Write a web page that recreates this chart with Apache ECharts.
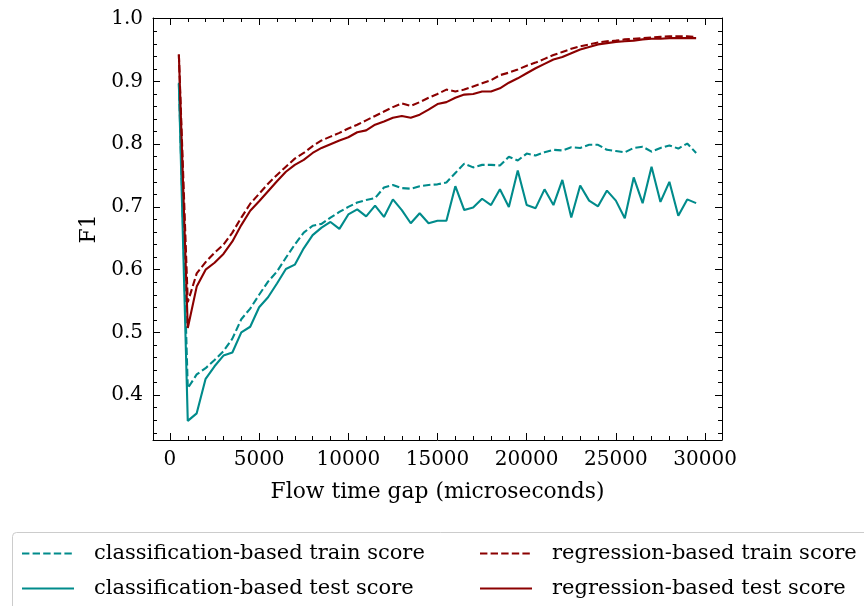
<!DOCTYPE html>
<html>
<head>
<meta charset="utf-8">
<script src="https://cdn.jsdelivr.net/npm/echarts@6/dist/echarts.min.js"></script>
<style>
  html, body { margin: 0; padding: 0; background: #fff; }
  #chart { width: 864px; height: 606px; }
</style>
</head>
<body>
<div id="chart"></div>
<script>
// Flow time gap values (microseconds)
const gaps = [500, 1000, 1500, 2000, 2500, 3000, 3500, 4000, 4500, 5000,
  5500, 6000, 6500, 7000, 7500, 8000, 8500, 9000, 9500, 10000,
  10500, 11000, 11500, 12000, 12500, 13000, 13500, 14000, 14500, 15000,
  15500, 16000, 16500, 17000, 17500, 18000, 18500, 19000, 19500, 20000,
  20500, 21000, 21500, 22000, 22500, 23000, 23500, 24000, 24500, 25000,
  25500, 26000, 26500, 27000, 27500, 28000, 28500, 29000, 29500];

// F1 scores per approach
const clsTrain = [0.898, 0.411, 0.433, 0.443, 0.456, 0.470, 0.490, 0.521, 0.538, 0.560,
  0.581, 0.597, 0.619, 0.640, 0.659, 0.670, 0.673, 0.683, 0.692, 0.700,
  0.707, 0.711, 0.714, 0.731, 0.735, 0.730, 0.729, 0.733, 0.735, 0.736,
  0.739, 0.754, 0.769, 0.763, 0.767, 0.767, 0.766, 0.780, 0.774, 0.785,
  0.782, 0.787, 0.791, 0.790, 0.795, 0.794, 0.799, 0.799, 0.791, 0.789,
  0.787, 0.794, 0.796, 0.788, 0.794, 0.798, 0.793, 0.801, 0.786];

const clsTest = [0.896, 0.359, 0.371, 0.426, 0.446, 0.463, 0.468, 0.500, 0.509, 0.540,
  0.556, 0.578, 0.601, 0.608, 0.634, 0.655, 0.667, 0.676, 0.665, 0.688,
  0.696, 0.685, 0.702, 0.684, 0.712, 0.695, 0.674, 0.690, 0.674, 0.678,
  0.678, 0.733, 0.695, 0.699, 0.713, 0.703, 0.728, 0.700, 0.758, 0.703,
  0.698, 0.728, 0.703, 0.743, 0.683, 0.734, 0.710, 0.701, 0.726, 0.710,
  0.682, 0.747, 0.706, 0.764, 0.708, 0.740, 0.686, 0.712, 0.706];

const regTrain = [0.943, 0.548, 0.594, 0.612, 0.627, 0.640, 0.659, 0.683, 0.705, 0.721,
  0.737, 0.751, 0.764, 0.777, 0.786, 0.797, 0.806, 0.812, 0.818, 0.825,
  0.831, 0.838, 0.845, 0.852, 0.859, 0.865, 0.861, 0.867, 0.874, 0.880,
  0.887, 0.884, 0.887, 0.892, 0.897, 0.902, 0.910, 0.914, 0.919, 0.925,
  0.930, 0.936, 0.942, 0.947, 0.952, 0.956, 0.959, 0.962, 0.964, 0.965,
  0.967, 0.968, 0.969, 0.970, 0.971, 0.972, 0.972, 0.972, 0.971];

const regTest = [0.943, 0.507, 0.573, 0.600, 0.611, 0.625, 0.645, 0.671, 0.694, 0.709,
  0.725, 0.741, 0.756, 0.767, 0.775, 0.786, 0.794, 0.800, 0.806, 0.811,
  0.819, 0.822, 0.831, 0.836, 0.842, 0.845, 0.842, 0.847, 0.855, 0.864,
  0.867, 0.874, 0.879, 0.880, 0.884, 0.884, 0.889, 0.898, 0.905, 0.913,
  0.921, 0.928, 0.935, 0.939, 0.945, 0.951, 0.955, 0.959, 0.961, 0.963,
  0.964, 0.965, 0.967, 0.968, 0.968, 0.969, 0.969, 0.969, 0.969];

// Tick positions
const xMajor = [0, 5000, 10000, 15000, 20000, 25000, 30000];
const xMinor = [1000, 2000, 3000, 4000, 6000, 7000, 8000, 9000, 11000, 12000, 13000, 14000,
  16000, 17000, 18000, 19000, 21000, 22000, 23000, 24000, 26000, 27000, 28000, 29000];
const yMajor = [0.4, 0.5, 0.6, 0.7, 0.8, 0.9, 1.0];
const yMinor = [0.34, 0.36, 0.38, 0.42, 0.44, 0.46, 0.48, 0.52, 0.54, 0.56, 0.58,
  0.62, 0.64, 0.66, 0.68, 0.72, 0.74, 0.76, 0.78, 0.82, 0.84, 0.86, 0.88,
  0.92, 0.94, 0.96, 0.98];

const names = {
  clsTrain: 'classification-based train score',
  clsTest: 'classification-based test score',
  regTrain: 'regression-based train score',
  regTest: 'regression-based test score'
};

const TEAL = '#008b8b';
const RED = '#8b0000';
const FONT = 'DejaVu Serif';
const X_MIN = -950, X_MAX = 30950;
const Y_MIN = 0.3285, Y_MAX = 1.0011;

function pairs(ys) { return gaps.map((g, i) => [g, ys[i]]); }

function xAxisOf(pos, ticks, len, main) {
  return {
    type: 'value', position: pos, min: X_MIN, max: X_MAX,
    axisLine: { show: main, onZero: false, lineStyle: { color: '#000', width: 1 } },
    axisTick: { show: true, inside: true, length: len, customValues: ticks, lineStyle: { color: '#000', width: 1 } },
    axisLabel: { show: main && pos === 'bottom', customValues: ticks, margin: 10,
      fontFamily: FONT, fontSize: 20, color: '#000',
      formatter: v => String(Math.round(v)) },
    splitLine: { show: false },
    name: main && pos === 'bottom' ? 'Flow time gap (microseconds)' : '',
    nameLocation: 'middle', nameGap: 41,
    nameTextStyle: { fontFamily: FONT, fontSize: 21.8, color: '#000' }
  };
}

function yAxisOf(pos, ticks, len, main) {
  return {
    type: 'value', position: pos, min: Y_MIN, max: Y_MAX,
    axisLine: { show: main, onZero: false, lineStyle: { color: '#000', width: 1 } },
    axisTick: { show: true, inside: true, length: len, customValues: ticks, lineStyle: { color: '#000', width: 1 } },
    axisLabel: { show: main && pos === 'left', customValues: ticks, margin: 10,
      fontFamily: FONT, fontSize: 20, color: '#000',
      formatter: v => Number(v).toFixed(1) },
    splitLine: { show: false },
    name: main && pos === 'left' ? 'F1' : '',
    nameLocation: 'middle', nameGap: 50,
    nameTextStyle: { fontFamily: FONT, fontSize: 21.8, color: '#000' }
  };
}

function lineSeries(name, ys, color, dashed) {
  return {
    name, type: 'line', data: pairs(ys), xAxisIndex: 0, yAxisIndex: 0,
    showSymbol: false, symbol: 'none', silent: true, animation: false,
    lineStyle: { color, width: 2.1, type: dashed ? [7.4, 3.2] : 'solid' },
    itemStyle: { color }
  };
}

function legendOf(left, data) {
  return {
    orient: 'vertical', left, top: 541, padding: 0, height: 80, data,
    itemWidth: 52, itemHeight: 14, itemGap: 10,
    itemStyle: { opacity: 0 },
    textStyle: { fontFamily: FONT, fontSize: 21, color: '#000', lineHeight: 25, padding: [0, 0, 0, 15] },
    selectedMode: false
  };
}

const chart = echarts.init(document.getElementById('chart'), null, { renderer: 'canvas' });
chart.setOption({
  animation: false,
  backgroundColor: '#fff',
  grid: { left: 153, top: 18, right: 142, bottom: 166 },
  xAxis: [
    xAxisOf('bottom', xMajor, 7, true),
    xAxisOf('bottom', xMinor, 4, false),
    xAxisOf('top', xMajor, 7, true),
    xAxisOf('top', xMinor, 4, false)
  ],
  yAxis: [
    yAxisOf('left', yMajor, 7, true),
    yAxisOf('left', yMinor, 4, false),
    yAxisOf('right', yMajor, 7, true),
    yAxisOf('right', yMinor, 4, false)
  ],
  graphic: [{
    type: 'rect', z: -10, silent: true,
    shape: { x: 12.5, y: 532.5, width: 860, height: 90, r: 4 },
    style: { fill: '#fff', stroke: '#cccccc', lineWidth: 1 }
  }],
  legend: [
    legendOf(21, [names.clsTrain, names.clsTest]),
    legendOf(479, [names.regTrain, names.regTest])
  ],
  series: [
    lineSeries(names.clsTrain, clsTrain, TEAL, true),
    lineSeries(names.clsTest, clsTest, TEAL, false),
    lineSeries(names.regTrain, regTrain, RED, true),
    lineSeries(names.regTest, regTest, RED, false)
  ]
});
</script>
</body>
</html>
